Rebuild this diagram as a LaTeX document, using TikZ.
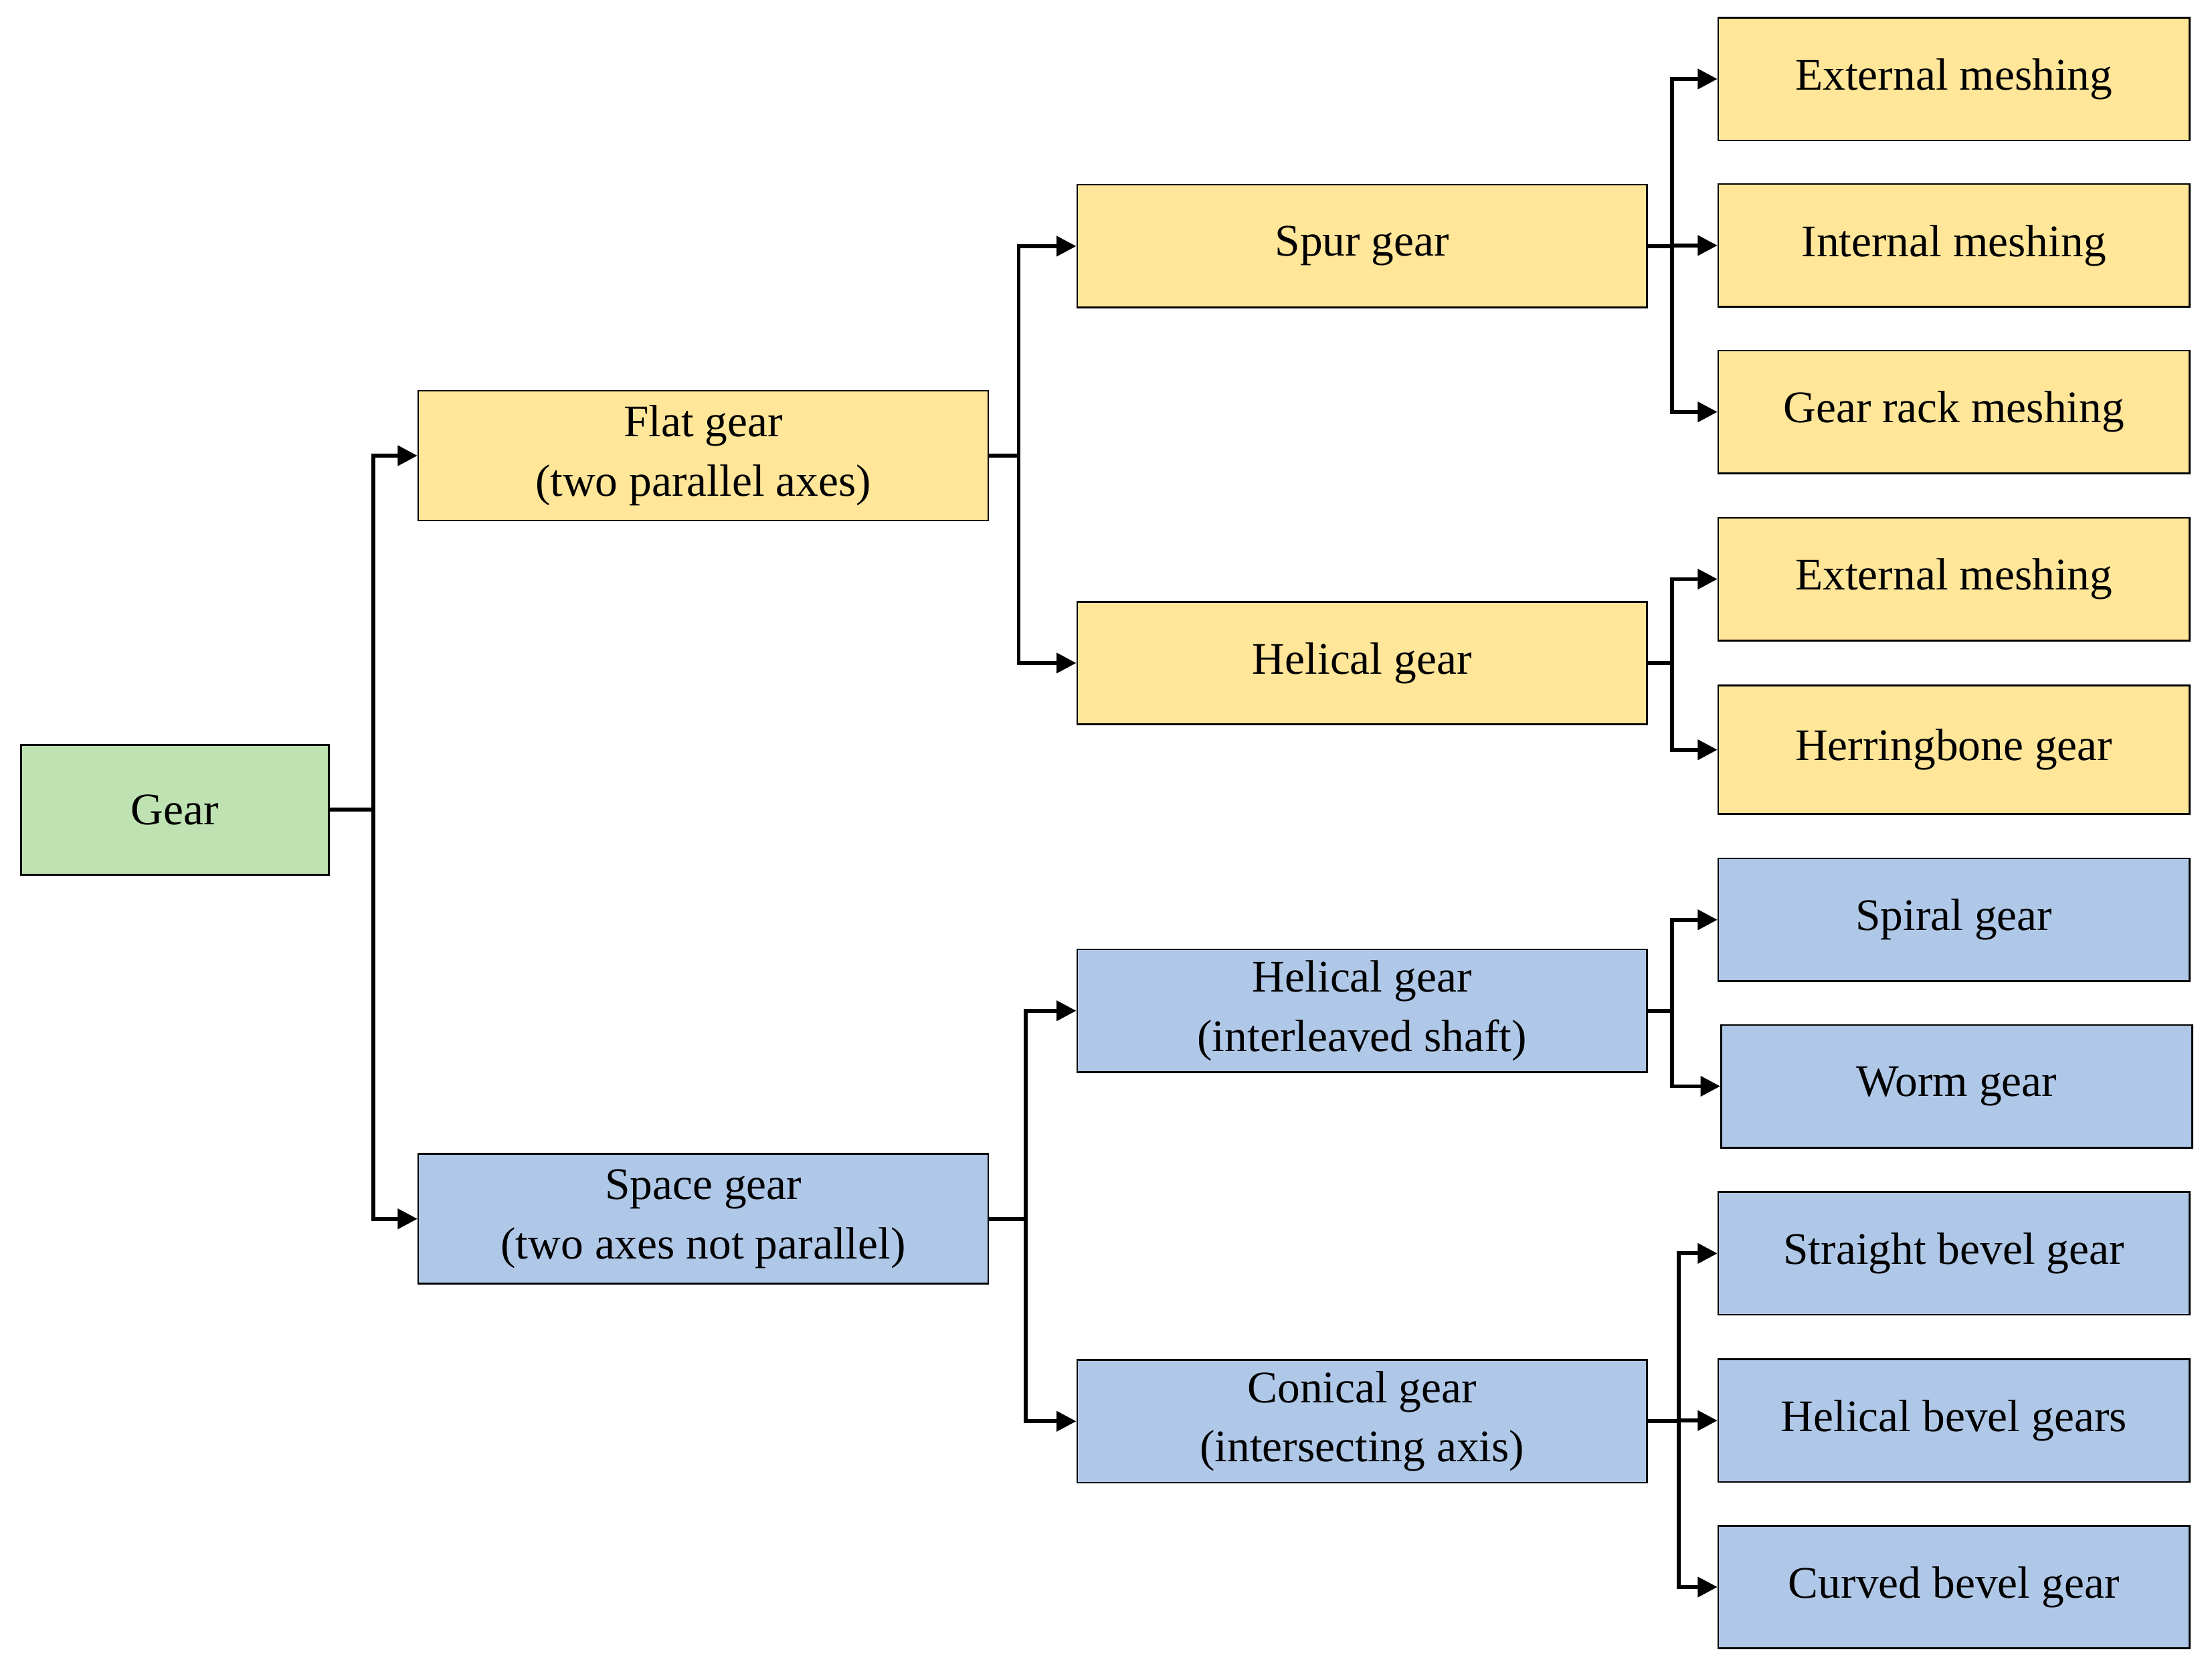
\documentclass[tikz,border=0pt]{standalone}
\usepackage{fontspec}
\setmainfont{Liberation Serif}
\usetikzlibrary{arrows.meta}
\definecolor{cy}{HTML}{FFE699}
\definecolor{cg}{HTML}{BFE2B2}
\definecolor{cb}{HTML}{B0C8E8}
\begin{document}
\begin{tikzpicture}[x=0.5pt,y=-0.5pt,
  box/.style={draw=black,line width=0.6pt,minimum width=202pt,minimum height=43.5pt,inner sep=0pt,align=center,font=\fontsize{16}{21}\selectfont},
  leaf/.style={box,minimum width=167pt},
  arr/.style={line width=1.4pt,-{Triangle[length=7pt,width=7pt]}},
  ln/.style={line width=1.4pt}]
\useasboundingbox (0,0) rectangle (1568,1185);
\node[box,fill=cg,minimum width=109pt,minimum height=46pt] (gear) at (124,574) {Gear};
\node[box,fill=cy,minimum height=46pt] (flat) at (498.5,323) {Flat gear\\(two parallel axes)};
\node[box,fill=cb,minimum height=46pt] (space) at (498.5,864) {Space gear\\(two axes not parallel)};
\node[box,fill=cy] (spur) at (965.5,174.5) {Spur gear};
\node[box,fill=cy] (hel) at (965.5,470) {Helical gear};
\node[box,fill=cb] (heli) at (965.5,716.5) {Helical gear\\(interleaved shaft)};
\node[box,fill=cb] (con) at (965.5,1007.5) {Conical gear\\(intersecting axis)};
\node[leaf,fill=cy] (e1) at (1385,56) {External meshing};
\node[leaf,fill=cy] (i1) at (1385,174) {Internal meshing};
\node[leaf,fill=cy] (r1) at (1385,292) {Gear rack meshing};
\node[leaf,fill=cy] (e2) at (1385,410.5) {External meshing};
\node[leaf,fill=cy,minimum height=45.5pt] (hb) at (1385,531.5) {Herringbone gear};
\node[leaf,fill=cb] (sp) at (1385,652) {Spiral gear};
\node[leaf,fill=cb] (wo) at (1387,770) {Worm gear};
\node[leaf,fill=cb] (sb) at (1385,888.5) {Straight bevel gear};
\node[leaf,fill=cb] (hbv) at (1385,1007) {Helical bevel gears};
\node[leaf,fill=cb] (cb) at (1385,1125) {Curved bevel gear};
\foreach \a/\b/\d in {gear/flat/31,gear/space/31,flat/spur/21,flat/hel/21,space/heli/26,space/con/26,
  spur/e1/17,spur/i1/17,spur/r1/17,hel/e2/17,hel/hb/17,heli/sp/17,heli/wo/17,con/sb/22,con/hbv/22,con/cb/22}
  \draw[arr] (\a.east) -- ++(\d,0) |- (\b.west);
\end{tikzpicture}
\end{document}
